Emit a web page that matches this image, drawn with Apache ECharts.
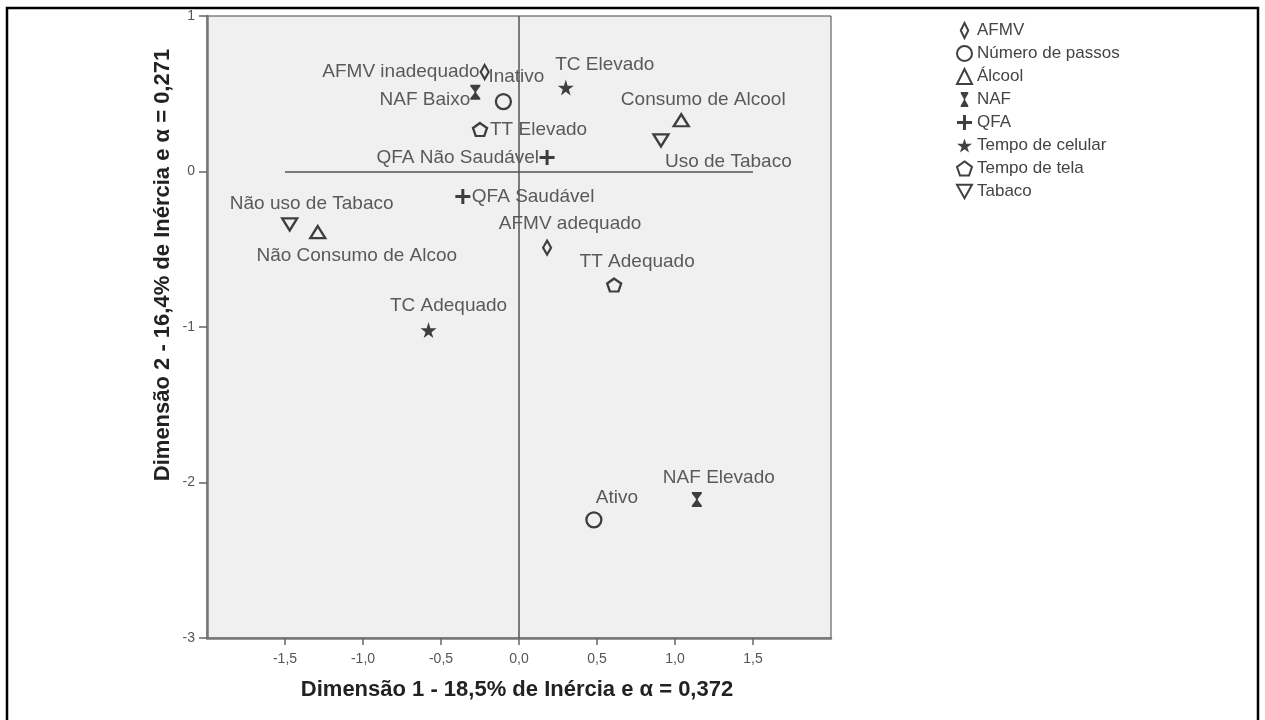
<!DOCTYPE html>
<html>
<head>
<meta charset="utf-8">
<style>
  html, body { margin: 0; padding: 0; background: #fff; }
  #chart { width: 1265px; height: 720px; }
</style>
<script src="https://cdn.jsdelivr.net/npm/echarts@6/dist/echarts.min.js"></script>
</head>
<body>
<div id="chart"></div>
<script>
// ---- data ----
const seriesNames = ['AFMV', 'Número de passos', 'Álcool', 'NAF', 'QFA', 'Tempo de celular', 'Tempo de tela', 'Tabaco'];
const pointLabels = [
  ['AFMV inadequado', 'AFMV adequado'],
  ['Inativo', 'Ativo'],
  ['Consumo de Alcool', 'Não Consumo de Alcoo'],
  ['NAF Baixo', 'NAF Elevado'],
  ['QFA Não Saudável', 'QFA Saudável'],
  ['TC Elevado', 'TC Adequado'],
  ['TT Elevado', 'TT Adequado'],
  ['Uso de Tabaco', 'Não uso de Tabaco']
];
const dim1 = [[-0.22, 0.18], [-0.10, 0.48], [1.04, -1.29], [-0.28, 1.14], [0.18, -0.36], [0.30, -0.58], [-0.25, 0.61], [0.91, -1.47]];
const dim2 = [[0.64, -0.49], [0.45, -2.24], [0.33, -0.39], [0.51, -2.11], [0.09, -0.16], [0.54, -1.02], [0.27, -0.73], [0.20, -0.34]];
const xTicks = [-1.5, -1.0, -0.5, 0.0, 0.5, 1.0, 1.5];
const yTicks = [1, 0, -1, -2, -3];
const xTitle = 'Dimensão 1 - 18,5% de Inércia e α = 0,372';
const yTitle = 'Dimensão 2 - 16,4% de Inércia e α = 0,271';

// ---- styles ----
const FONT = '"Liberation Sans", Arial, sans-serif';
const outline = { color: 'rgba(0,0,0,0)', borderColor: '#111', borderWidth: 2.3 };
const filled = { color: '#111', borderWidth: 0 };
const symbols = [
  { symbol: 'path://M5,0 L10,10 L5,20 L0,10 Z', size: [8, 14], style: outline },
  { symbol: 'circle', size: 15, style: outline },
  { symbol: 'triangle', size: [15, 12], style: outline },
  { symbol: 'path://M0,0 L10,0 L10,2 L6,9 L6,11 L10,18 L10,20 L0,20 L0,18 L4,11 L4,9 L0,2 Z', size: [10, 15], style: filled },
  { symbol: 'path://M4,0 L6,0 L6,4 L10,4 L10,6 L6,6 L6,10 L4,10 L4,6 L0,6 L0,4 L4,4 Z', size: 15, style: filled },
  { symbol: 'path://M50,0 L61,35 L98,35 L68,57 L79,91 L50,70 L21,91 L32,57 L2,35 L39,35 Z', size: 16, style: filled },
  { symbol: 'path://M50,0 L98,35 L79,91 L21,91 L2,35 Z', size: [14, 13], style: outline },
  { symbol: 'path://M0,0 L10,0 L5,9 Z', size: [15, 12], style: outline }
];
// label placement: [align, dx, dy]
const labelLayout = {
  'AFMV inadequado': ['right', -5, 0],
  'AFMV adequado': ['center', 23, -24],
  'Inativo': ['center', 13, -25],
  'Ativo': ['center', 23, -22],
  'Consumo de Alcool': ['center', 22, -20],
  'Não Consumo de Alcoo': ['center', 39, 24],
  'NAF Baixo': ['right', -5, 8],
  'NAF Elevado': ['center', 22, -22],
  'QFA Não Saudável': ['right', -8, 0],
  'QFA Saudável': ['left', 9, 0],
  'TC Elevado': ['center', 39, -23],
  'TC Adequado': ['center', 20, -24],
  'TT Elevado': ['left', 10, 0],
  'TT Adequado': ['center', 23, -23],
  'Uso de Tabaco': ['left', 4, 21],
  'Não uso de Tabaco': ['center', 22, -21]
};

const fmt = v => v.toFixed(1).replace('.', ',');

const series = seriesNames.map((name, i) => ({
  name: name,
  type: 'scatter',
  symbol: symbols[i].symbol,
  symbolSize: symbols[i].size,
  itemStyle: symbols[i].style,
  emphasis: { disabled: true },
  data: pointLabels[i].map((lab, j) => {
    const lay = labelLayout[lab];
    return {
      name: lab,
      value: [dim1[i][j], dim2[i][j]],
      label: {
        show: true,
        position: 'inside',
        align: lay[0],
        verticalAlign: 'middle',
        offset: [lay[1], lay[2]],
        formatter: '{b}',
        color: '#333',
        fontSize: 19,
        fontFamily: FONT
      }
    };
  })
}));

series.push({
  type: 'scatter',
  data: [],
  silent: true,
  markLine: {
    silent: true,
    symbol: 'none',
    label: { show: false },
    lineStyle: { color: '#555', width: 1.5, type: 'solid' },
    data: [
      [{ coord: [0, yTicks[0]] }, { coord: [0, yTicks[yTicks.length - 1]] }],
      [{ coord: [xTicks[0], 0] }, { coord: [xTicks[xTicks.length - 1], 0] }]
    ]
  }
});

const chart = echarts.init(document.getElementById('chart'), null, { renderer: 'canvas' });
chart.setOption({
  animation: false,
  backgroundColor: '#fff',
  textStyle: { fontFamily: FONT },
  grid: {
    left: 207, top: 16, right: 434, bottom: 82,
    show: true, backgroundColor: '#f0f0f0', borderColor: '#444', borderWidth: 1
  },
  legend: {
    orient: 'vertical',
    left: 951, top: 17,
    itemWidth: 15, itemHeight: 15, itemGap: 6,
    selectedMode: false,
    data: seriesNames,
    textStyle: { color: '#444', fontSize: 17, fontFamily: FONT }
  },
  xAxis: {
    type: 'value', min: -2, max: 2, interval: 0.5,
    splitLine: { show: false },
    axisLine: { show: true, onZero: false, lineStyle: { color: '#777', width: 2.5 } },
    axisTick: { show: true, length: 7, customValues: xTicks, lineStyle: { color: '#666', width: 1.5 } },
    axisLabel: { customValues: xTicks, formatter: v => fmt(v), color: '#555', fontSize: 14, margin: 14, fontFamily: FONT }
  },
  yAxis: {
    type: 'value', min: -3, max: 1, interval: 1,
    splitLine: { show: false },
    axisLine: { show: true, onZero: false, lineStyle: { color: '#777', width: 2.5 } },
    axisTick: { show: true, length: 8, lineStyle: { color: '#666', width: 1.5 } },
    axisLabel: { formatter: v => String(v), color: '#555', fontSize: 14, margin: 12, fontFamily: FONT }
  },
  graphic: [
    { type: 'rect', silent: true, shape: { x: 7, y: 8, width: 1251, height: 740 }, style: { fill: 'none', stroke: '#000', lineWidth: 2.5 } },
    { type: 'text', silent: true, x: 517, y: 690, style: { text: xTitle, font: 'bold 22px ' + FONT, fill: '#222', textAlign: 'center', textVerticalAlign: 'middle' } },
    { type: 'text', silent: true, x: 163, y: 265, rotation: Math.PI / 2, style: { text: yTitle, font: 'bold 22px ' + FONT, fill: '#222', textAlign: 'center', textVerticalAlign: 'middle' } }
  ],
  series: series
});
</script>
</body>
</html>
